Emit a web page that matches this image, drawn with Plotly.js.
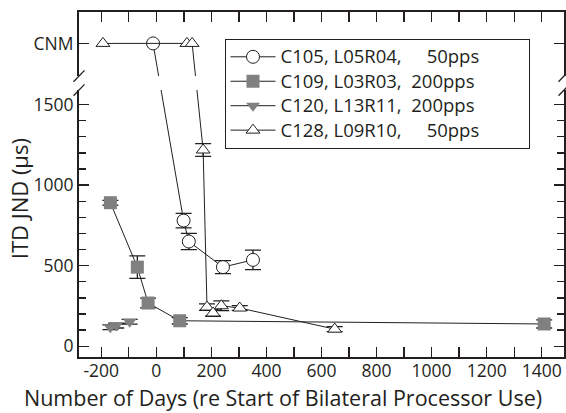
<!DOCTYPE html>
<html>
<head>
<meta charset="utf-8">
<script src="https://cdn.plot.ly/plotly-3.0.1.min.js"></script>
<style>html,body{margin:0;padding:0;background:#fff;}#chart{width:566px;height:413px;}</style>
</head>
<body>
<div id="chart"></div>
<script>
// Value used to plot "CNM" (could not measure) on the broken y axis
var CNM_Y = 1880;

// C105, L05R04, 50pps (open circles)
var c105_x = [-12, 99, 118, 242, 351];
var c105_y = [CNM_Y, 780, 650, 491, 536];
var c105_err = [NaN, 45, 50, 40, 60];

// C109, L03R03, 200pps (grey squares)
var c109_x = [-167, -69, -30, 85, 1409];
var c109_y = [891, 491, 268, 158, 138];
var c109_err = [15, 70, 30, 20, 25];

// C120, L13R11, 200pps (grey down triangles)
var c120_x = [-167, -146, -97];
var c120_y = [118, 128, 152];
var c120_err = [15, 15, 15];

// C128, L09R10, 50pps (open up triangles)
var c128_x = [-194, 111, 130, 170, 184, 206, 236, 303, 648];
var c128_y = [CNM_Y, CNM_Y, CNM_Y, 1218, 243, 206, 251, 237, 106];
var c128_err = [NaN, NaN, NaN, 40, 20, 20, 30, 15, 15];

// Legend labels
var seriesNames = ['C105, L05R04,\u00a0\u00a0\u2007\u00a050pps', 'C109, L03R03,\u00a0\u00a0200pps',
                   'C120, L13R11,\u00a0\u00a0200pps', 'C128, L09R10,\u00a0\u00a0\u2007\u00a050pps'];

// Tick labels
var xTickVals = [-200, 0, 200, 400, 600, 800, 1000, 1200, 1400];
var xTickText = ['-200', '0', '200', '400', '600', '800', '1000', '1200', '1400'];
var yTickVals = [0, 500, 1000, 1500, CNM_Y];
var yTickText = ['0', '500', '1000', '1500', 'CNM'];
var yMinorVals = [100, 200, 300, 400, 600, 700, 800, 900, 1100, 1200, 1300, 1400];

// y-axis break limits
var BREAK_LO = 1590, BREAK_HI = 1677;

var INK = '#231f20';
var GREY = '#808080';
var FONT = 'Open Sans, sans-serif';
var PAD = '\u00a0\u00a0\u00a0\u00a0\u00a0\u00a0\u00a0\u00a0\u00a0';

function legendName(s) {
  return '<span style="font-size:18.5px">' + s + PAD + '</span>';
}

function errBar(arr) {
  return {type: 'data', array: arr, visible: true, color: INK, thickness: 1.3, width: 8};
}

var traces = [
  {name: legendName(seriesNames[0]), x: c105_x, y: c105_y, error_y: errBar(c105_err),
   mode: 'lines+markers', line: {color: INK, width: 1},
   marker: {symbol: 'circle', size: 13, color: '#fff', line: {color: INK, width: 1}}},
  {name: legendName(seriesNames[1]), x: c109_x, y: c109_y, error_y: errBar(c109_err),
   mode: 'lines+markers', line: {color: INK, width: 1},
   marker: {symbol: 'square', size: 13, color: GREY, line: {color: GREY, width: 0}}},
  {name: legendName(seriesNames[2]), x: c120_x, y: c120_y, error_y: errBar(c120_err),
   mode: 'lines+markers', line: {color: INK, width: 1},
   marker: {symbol: 'triangle-down', size: 12, color: GREY, line: {color: GREY, width: 0}}},
  {name: legendName(seriesNames[3]), x: c128_x, y: c128_y, error_y: errBar(c128_err),
   mode: 'lines+markers', line: {color: INK, width: 1},
   marker: {symbol: 'triangle-up', size: 12, color: '#fff', line: {color: INK, width: 1}}}
];

function slash(xpaper, yval) {
  return {type: 'line', layer: 'above', xref: 'paper', yref: 'y',
    xsizemode: 'pixel', xanchor: xpaper, x0: -5.5, x1: 5.5,
    ysizemode: 'pixel', yanchor: yval, y0: -5.7, y1: 5.7,
    line: {color: INK, width: 1.3}};
}

var layout = {
  width: 566, height: 413,
  margin: {l: 79, r: 2, t: 12, b: 56},
  paper_bgcolor: '#fff', plot_bgcolor: '#fff',
  font: {family: FONT, size: 17.5, color: INK},
  showlegend: true,
  legend: {x: 0.3, y: 0.923, xanchor: 'left', yanchor: 'top',
    bordercolor: INK, borderwidth: 1, bgcolor: '#fff', itemwidth: 45,
    font: {family: FONT, size: 16.5, color: INK}, tracegroupgap: 0},
  xaxis: {range: [-281, 1481], tickmode: 'array', tickvals: xTickVals, ticktext: xTickText,
    ticks: 'inside', ticklen: 10, tickwidth: 1.3, ticklabelstandoff: -3,
    tickcolor: INK, showline: true, linewidth: 2, linecolor: INK, mirror: 'allticks',
    showgrid: false, zeroline: false,
    minor: {dtick: 100, tick0: 0, ticks: 'inside', ticklen: 10, tickwidth: 1.3, tickcolor: INK, showgrid: false},
    tickfont: {family: FONT, size: 17.5, color: INK}},
  yaxis: {range: [-67, 2075], tickmode: 'array', tickvals: yTickVals, ticktext: yTickText,
    ticks: 'inside', ticklen: 10, tickwidth: 1.3, tickcolor: INK,
    showline: true, linewidth: 2, linecolor: INK, mirror: 'allticks',
    showgrid: false, zeroline: false, ticklabelstandoff: 0,
    minor: {tickmode: 'array', tickvals: yMinorVals, ticks: 'inside', ticklen: 7, tickwidth: 1.3, tickcolor: INK, showgrid: false},
    tickfont: {family: FONT, size: 17.5, color: INK}},
  shapes: [
    {type: 'rect', layer: 'above', xref: 'paper', yref: 'y', x0: -0.02, x1: 1.02,
     y0: BREAK_LO, y1: BREAK_HI, fillcolor: '#fff', line: {width: 0}},
    slash(0, BREAK_HI), slash(0, BREAK_LO), slash(1, BREAK_HI), slash(1, BREAK_LO)
  ],
  annotations: [
    {text: 'Number of Days (re Start of Bilateral Processor Use)', xref: 'paper', yref: 'paper',
     x: 0.42, y: -0.166, xanchor: 'center', yanchor: 'bottom', showarrow: false,
     font: {family: FONT, size: 21.5, color: INK}},
    {text: 'ITD JND (\u00b5s)', xref: 'paper', yref: 'y', x: -0.125, y: 915,
     xanchor: 'center', yanchor: 'middle', textangle: -90, showarrow: false,
     font: {family: FONT, size: 22, color: INK}}
  ]
};

Plotly.newPlot('chart', traces, layout, {displayModeBar: false, staticPlot: true});
</script>
</body>
</html>
